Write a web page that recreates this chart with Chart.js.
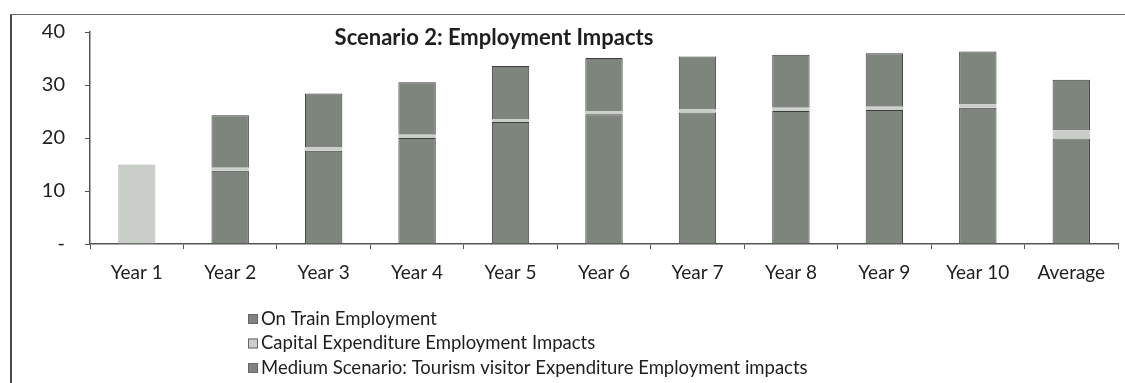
<!DOCTYPE html>
<html>
<head>
<meta charset="utf-8">
<script src="https://cdn.jsdelivr.net/npm/chart.js@4"></script>
<style>
  html, body { margin: 0; padding: 0; background: #fff; }
  #wrap { position: relative; width: 1125px; height: 383px; }
  #frame { position: absolute; left: 10px; top: 14px; right: 0; bottom: 0;
           border-left: 2px solid #4a4a4a; border-top: 1px solid #6a6a6a; }
  canvas { position: absolute; left: 0; top: 0; }
</style>
</head>
<body>
<div id="wrap">
  <div id="frame"></div>
  <canvas id="chart" width="1125" height="383"></canvas>
</div>
<script>
// --- data ---
const years = ['Year 1', 'Year 2', 'Year 3', 'Year 4', 'Year 5', 'Year 6', 'Year 7', 'Year 8', 'Year 9', 'Year 10', 'Average'];
const onTrain = [0, 13.8, 17.6, 20.0, 23.0, 24.5, 24.8, 25.1, 25.3, 25.7, 19.9];
const capex = [15.0, 0.6, 0.6, 0.6, 0.6, 0.6, 0.6, 0.6, 0.6, 0.6, 1.5];
const tourism = [0, 9.9, 10.2, 9.9, 10.0, 10.0, 10.0, 10.0, 10.1, 10.0, 9.6];
const yTicks = [0, 10, 20, 30, 40];

const FONT = 'Lato, "Open Sans", sans-serif';
const dark = '#7d857c';
const light = '#c9cec9';

// legend drawn as a vertical list under the axis, like the original
const vLegend = {
    id: 'vLegend',
    afterDraw(chart) {
        const ctx = chart.ctx;
        ctx.save();
        ctx.font = '18.5px ' + FONT;
        ctx.textBaseline = 'middle';
        chart.data.datasets.forEach((ds, i) => {
            const y = 319 + i * 24.5;
            ctx.fillStyle = ds.backgroundColor;
            ctx.strokeStyle = '#666';
            ctx.lineWidth = 1;
            ctx.fillRect(248, y - 5, 10, 10);
            ctx.strokeRect(248.5, y - 4.5, 9, 9);
            ctx.fillStyle = '#1e1e1e';
            ctx.fillText(ds.label, 261, y);
        });
        // chart title sits inside the plot, left of centre
        ctx.font = 'bold 22px ' + FONT;
        ctx.textAlign = 'center';
        ctx.fillText('Scenario 2: Employment Impacts', 494, 38);
        ctx.restore();
    }
};

new Chart(document.getElementById('chart'), {
    type: 'bar',
    data: {
        labels: years,
        datasets: [
            { label: 'On Train Employment', data: onTrain, backgroundColor: dark, borderColor: '#3c3c3c', borderWidth: 1 },
            { label: 'Capital Expenditure Employment Impacts', data: capex, backgroundColor: light, borderColor: '#a8aca8', borderWidth: 0.5 },
            { label: 'Medium Scenario: Tourism visitor Expenditure Employment impacts', data: tourism, backgroundColor: dark, borderColor: '#3c3c3c', borderWidth: 1 }
        ]
    },
    options: {
        responsive: false,
        animation: false,
        layout: { padding: { left: 0, top: 28, right: 7, bottom: 0 } },
        datasets: { bar: { barPercentage: 0.4, categoryPercentage: 1 } },
        plugins: { legend: { display: false }, title: { display: false }, tooltip: { enabled: false } },
        scales: {
            x: {
                stacked: true,
                grid: { drawOnChartArea: false, offset: true, tickLength: 5, color: '#555', tickColor: '#555' },
                border: { color: '#555', width: 1.5 },
                ticks: { font: { family: FONT, size: 19 }, color: '#1e1e1e', padding: 12, maxRotation: 0 },
                afterFit: (s) => { s.height = 139; }
            },
            y: {
                stacked: true,
                min: 0,
                max: 40,
                afterBuildTicks: (s) => { s.ticks = yTicks.map(v => ({ value: v })); },
                grid: { drawOnChartArea: false, tickLength: 5, color: '#555', tickColor: '#555' },
                border: { color: '#555', width: 1.5 },
                ticks: {
                    font: { family: FONT, size: 20 },
                    color: '#1e1e1e',
                    padding: 20,
                    callback: (v) => v === 0 ? '-' : v
                },
                afterFit: (s) => { s.width = 90; }
            }
        }
    },
    plugins: [vLegend]
});
</script>
</body>
</html>
